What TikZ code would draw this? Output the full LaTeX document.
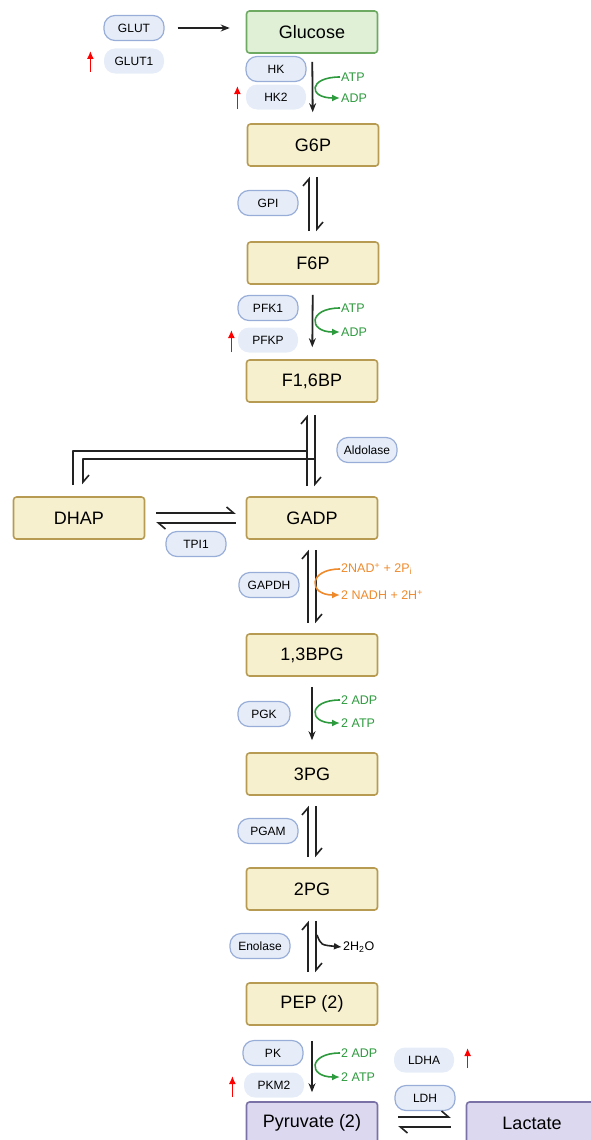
\documentclass[tikz,border=0pt]{standalone}
\usepackage{fontspec}
\setmainfont{Liberation Sans}
\usetikzlibrary{arrows.meta,positioning}
\usepackage{xcolor}
\definecolor{boxfill}{HTML}{F6F0CE}
\definecolor{boxline}{HTML}{B79B52}
\definecolor{glcfill}{HTML}{DFF0D6}
\definecolor{glcline}{HTML}{6FAA63}
\definecolor{pyrfill}{HTML}{DCD8F0}
\definecolor{pyrline}{HTML}{7A72A6}
\definecolor{enzfill}{HTML}{E6EDF8}
\definecolor{enzline}{HTML}{98AED8}
\definecolor{atpgreen}{HTML}{2E9A3E}
\definecolor{nadorange}{HTML}{EE8A2C}
\definecolor{mainline}{HTML}{222222}

\begin{document}
\begin{tikzpicture}[x=1pt,y=-1pt,>={Stealth[length=9pt,width=7pt]},line join=round]
  \tikzset{
    metab/.style={draw=boxline,fill=boxfill,line width=1.6pt,rounded corners=3pt,
      minimum width=131pt,minimum height=42pt,font=\fontsize{18}{20}\selectfont},
    enz/.style={draw=enzline,fill=enzfill,line width=1.2pt,rounded corners=11pt,
      minimum width=60pt,minimum height=25pt,inner xsep=7pt,font=\fontsize{12}{14}\selectfont},
    gene/.style={enz,draw=none},
    react/.style={->,draw=mainline,line width=1.8pt},
    equil/.style={-{Straight Barb[left,length=7pt,width=12pt]},draw=mainline,line width=1.6pt},
    plainline/.style={draw=mainline,line width=1.6pt},
    cofac/.style={-{Latex[length=8pt,width=7pt]},line width=1.6pt},
    upreg/.style={-{Latex[length=8pt,width=7pt]},red,line width=1.4pt},
    cotext/.style={font=\fontsize{12.5}{14}\selectfont,inner sep=1pt,anchor=west}
  }
  \useasboundingbox (0,0) rectangle (591,1140);
  \clip (0,0) rectangle (591,1140);

  % metabolites
  \node[metab,fill=glcfill,draw=glcline] (glc) at (312,32)   {Glucose};
  \node[metab]                           (g6p) at (313,145)  {G6P};
  \node[metab]                           (f6p) at (313,263)  {F6P};
  \node[metab]                         (f16bp) at (312,381)  {F1,6BP};
  \node[metab]                          (gadp) at (312,518)  {GADP};
  \node[metab]                          (dhap) at (79,518)   {DHAP};
  \node[metab]                           (bpg) at (312,655)  {1,3BPG};
  \node[metab]                           (pg3) at (312,774)  {3PG};
  \node[metab]                           (pg2) at (312,889)  {2PG};
  \node[metab]                           (pep) at (312,1004) {PEP (2)};
  \node[metab,fill=pyrfill,draw=pyrline] (pyr) at (312,1123) {Pyruvate (2)};
  \node[metab,fill=pyrfill,draw=pyrline] (lac) at (532,1123) {Lactate};

  % enzymes
  \node[enz]  (glut)  at (134,28)   {GLUT};
  \node[gene] (glut1) at (134,61)   {GLUT1};
  \node[enz]  (hk)    at (276,69)   {HK};
  \node[gene] (hk2)   at (276,97)   {HK2};
  \node[enz]  (gpi)   at (268,203)  {GPI};
  \node[enz]  (pfk1)  at (268,308)  {PFK1};
  \node[gene] (pfkp)  at (268,340)  {PFKP};
  \node[enz]  (ald)   at (367,450)  {Aldolase};
  \node[enz]  (tpi)   at (196,544)  {TPI1};
  \node[enz]  (gapdh) at (269,585)  {GAPDH};
  \node[enz,minimum width=52pt] (pgk) at (264,714) {PGK};
  \node[enz]  (pgam)  at (268,831)  {PGAM};
  \node[enz]  (eno)   at (260,946)  {Enolase};
  \node[enz]  (pk)    at (273,1053) {PK};
  \node[gene] (pkm2)  at (274,1085) {PKM2};
  \node[gene] (ldha)  at (424,1060) {LDHA};
  \node[enz]  (ldh)   at (425,1098) {LDH};

  % up-regulated isoforms
  \draw[upreg] ([xshift=-13pt,yshift=-11pt]glut1.west) -- ++(0,-21);
  \draw[upreg] ([xshift=-8pt,yshift=-12pt]hk2.west) -- ++(0,-23);
  \draw[upreg] ([xshift=-6pt,yshift=-12pt]pfkp.west) -- ++(0,-22);
  \draw[upreg] ([xshift=-11pt,yshift=-12pt]pkm2.west) -- ++(0,-21);
  \draw[upreg] ([xshift=13pt,yshift=-8pt]ldha.east) -- ++(0,-20);

  % transport
  \draw[react,line width=1.2pt,shorten <=13pt,shorten >=16pt] (glut.east) -- (glut.east -| glc.west);

  % irreversible steps
  \draw[react,shorten <=8pt,shorten >=11pt] (glc) -- (g6p);
  \draw[react,shorten <=10pt,shorten >=12pt] (f6p) -- (f16bp);
  \draw[react,shorten <=10pt,shorten >=12pt] (bpg) -- (pg3);
  \draw[react,shorten <=15pt,shorten >=9pt] (pep) -- (pyr);

  % reversible steps
  \foreach \a/\b in {g6p/f6p,gadp/bpg,pg3/pg2,pg2/pep}{
    \draw[equil,shorten <=10pt,shorten >=10pt] ([xshift=-4pt]\b.north) -- ([xshift=-4pt]\a.south);
    \draw[equil,shorten <=10pt,shorten >=10pt] ([xshift=4pt]\a.south) -- ([xshift=4pt]\b.north);
  }
  \draw[equil,shorten <=10pt,shorten >=12pt] ([xshift=-5pt]gadp.north) -- ([xshift=-5pt]f16bp.south);
  \draw[equil,shorten <=12pt,shorten >=10pt] ([xshift=3pt]f16bp.south) -- ([xshift=3pt]gadp.north);
  \coordinate (aldin)  at (307,451);
  \coordinate (aldout) at (315,459);
  \draw[plainline,shorten <=11pt] ([xshift=-6pt]dhap.north) |- (aldin);
  \draw[equil,shorten >=12pt] (aldout) -| ([xshift=4pt]dhap.north);
  \draw[equil,shorten <=11pt,shorten >=10pt] ([yshift=5pt]dhap.east) -- ([yshift=5pt]gadp.west);
  \draw[equil,shorten <=10pt,shorten >=11pt] ([yshift=-5pt]gadp.west) -- ([yshift=-5pt]dhap.east);
  \draw[equil,shorten <=20pt,shorten >=15pt] ([yshift=6pt]pyr.east) -- ([yshift=6pt]lac.west);
  \draw[equil,shorten <=15pt,shorten >=20pt] ([yshift=-4pt]lac.west) -- ([yshift=-4pt]pyr.east);

  % cofactors
  \node[cotext,text=atpgreen] (atp1) at (340,77)  {ATP};
  \node[cotext,text=atpgreen] (adp1) at (340,98)  {ADP};
  \node[cotext,text=atpgreen] (atp2) at (340,308) {ATP};
  \node[cotext,text=atpgreen] (adp2) at (340,332) {ADP};
  \node[cotext,text=nadorange] (nad) at (340,569) {2NAD\textsuperscript{+} + 2P\textsubscript{i}};
  \node[cotext,text=nadorange] (nadh) at (340,595) {2 NADH + 2H\textsuperscript{+}};
  \node[cotext,text=atpgreen] (adp3) at (340,700) {2 ADP};
  \node[cotext,text=atpgreen] (atp3) at (340,723) {2 ATP};
  \node[cotext] (water) at (342,947) {2H\textsubscript{2}O};
  \node[cotext,text=atpgreen] (adp4) at (340,1053) {2 ADP};
  \node[cotext,text=atpgreen] (atp4) at (340,1077) {2 ATP};

  \draw[cofac,atpgreen] (atp1.west) .. controls +(-32,0) and +(-32,0) .. (adp1.west);
  \draw[cofac,atpgreen] (atp2.west) .. controls +(-32,0) and +(-32,0) .. (adp2.west);
  \draw[cofac,nadorange] (nad.west) .. controls +(-32,0) and +(-32,0) .. (nadh.west);
  \draw[cofac,atpgreen] (adp3.west) .. controls +(-32,0) and +(-32,0) .. (atp3.west);
  \draw[cofac,atpgreen] (adp4.west) .. controls +(-32,0) and +(-32,0) .. (atp4.west);
  \coordinate (enoout) at (317,935);
  \draw[cofac,mainline] (enoout) .. controls +(4,10) .. (water.west);
\end{tikzpicture}
\end{document}
